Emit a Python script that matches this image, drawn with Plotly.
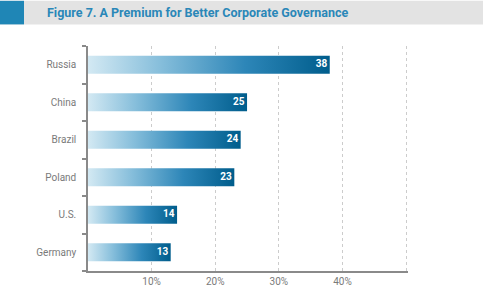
import plotly.graph_objects as go

categories = ["Germany", "U.S.", "Poland", "Brazil", "China", "Russia"]
values = [13, 14, 23, 24, 25, 38]
x_tickvals = [10, 20, 30, 40, 50]
x_ticktext = ["10%", "20%", "30%", "40%", ""]
title_text = "Figure 7. A Premium for Better Corporate Governance"

W, H = 483, 299
ML, MR, MT, MB = 88, 75, 46, 24
PW, PH = W - ML - MR, H - MT - MB

FONT = "Liberation Sans Narrow, Arial Narrow, Roboto, sans-serif"
bar_w = 0.48
grad = [[0, "#d3e9f3"], [0.3, "#86bedb"], [0.65, "#2d86b8"], [1, "#005d8c"]]

fig = go.Figure()
for i, (c, v) in enumerate(zip(categories, values)):
    y0, y1 = i - bar_w / 2, i + bar_w / 2
    fig.add_trace(go.Scatter(
        x=[0, v, v, 0, 0], y=[y0, y0, y1, y1, y0],
        mode="lines", line=dict(width=0), fill="toself",
        fillgradient=dict(type="horizontal", colorscale=grad),
        hoverinfo="skip", showlegend=False))

fig.add_trace(go.Scatter(
    x=values, y=list(range(len(categories))), mode="text",
    text=["<b>%d</b> " % v for v in values], textposition="middle left",
    textfont=dict(color="white", size=10, family=FONT),
    hoverinfo="skip", showlegend=False))

def px_x(p):
    return (p - ML) / PW

def px_y(p):
    return 1 + (MT - p) / PH

shapes = [
    dict(type="rect", xref="paper", yref="paper", x0=px_x(0), x1=px_x(W),
         y0=px_y(24), y1=px_y(0), fillcolor="#e3e3e3", line=dict(width=0), layer="below"),
    dict(type="rect", xref="paper", yref="paper", x0=px_x(0), x1=px_x(24),
         y0=px_y(24), y1=px_y(0), fillcolor="#1f86b6", line=dict(width=0), layer="below"),
]

fig.update_layout(
    width=W, height=H, margin=dict(l=ML, r=MR, t=MT, b=MB, pad=0),
    paper_bgcolor="white", plot_bgcolor="white",
    shapes=shapes,
    annotations=[dict(text="<b>" + title_text + "</b>", xref="paper", yref="paper",
                      x=px_x(45), y=px_y(12), xanchor="left", yanchor="middle",
                      showarrow=False, font=dict(family=FONT, size=12.5, color="#2a87b8"))],
    xaxis=dict(range=[0, 50.3], tickvals=x_tickvals, ticktext=x_ticktext,
               showgrid=True, gridcolor="#cccccc", griddash="dot", gridwidth=1,
               showline=True, linecolor="#8a8a8a", linewidth=1.5, zeroline=False,
               ticks="", tickfont=dict(family=FONT, size=10, color="#7a7a7a"),
               fixedrange=True),
    yaxis=dict(range=[-0.5, 5.5], tickvals=list(range(len(categories))), ticktext=categories,
               showgrid=False, zeroline=False, showline=True, linecolor="#8a8a8a", linewidth=1.5,
               ticks="", ticklabelstandoff=8,
               tickfont=dict(family=FONT, size=10, color="#7a7a7a"),
               minor=dict(tick0=-0.5, dtick=1, ticks="outside", ticklen=4,
                          tickcolor="#8a8a8a", tickwidth=1.5, showgrid=False),
               fixedrange=True),
)

fig.write_html("out.html")
